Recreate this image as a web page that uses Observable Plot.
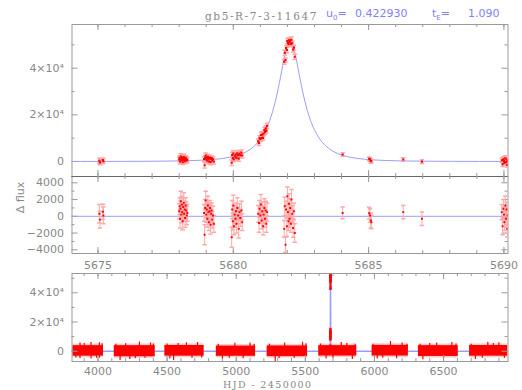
<!DOCTYPE html>
<html><head><meta charset="utf-8">
<script src="https://cdn.jsdelivr.net/npm/d3@7"></script>
<script src="https://cdn.jsdelivr.net/npm/@observablehq/plot@0.6"></script>
<style>
body{margin:0;background:#fff;}
#wrap{position:relative;width:522px;height:390px;overflow:hidden;background:#fff;}
#wrap svg{position:absolute;left:0;overflow:visible;}
.lbl{position:absolute;white-space:pre;line-height:1;}
</style></head><body>
<div id="wrap">
<div class="lbl" style="left:205px;top:11.1px;font-family:'DejaVu Serif';font-size:10.5px;letter-spacing:1.6px;color:#888">gb5-R-7-3-11647</div>
<div class="lbl" style="left:326px;top:8.2px;font-family:'DejaVu Sans';font-size:11px;color:#8080ff">u<span style="font-size:7px;position:relative;top:3px">0</span>=</div>
<div class="lbl" style="left:355px;top:8.2px;font-family:'DejaVu Sans';font-size:11px;color:#8080ff">0.422930</div>
<div class="lbl" style="left:432px;top:8.2px;font-family:'DejaVu Sans';font-size:11px;color:#8080ff">t<span style="font-size:7px;position:relative;top:3px">E</span>=</div>
<div class="lbl" style="left:468px;top:8.2px;font-family:'DejaVu Sans';font-size:11px;color:#8080ff">1.090</div>
<div class="lbl" style="left:-10px;top:192px;width:60px;text-align:center;font-family:'DejaVu Sans';font-size:11px;color:#888;transform:rotate(-90deg)">Δ flux</div>
<div class="lbl" style="left:223px;top:380px;font-family:'DejaVu Serif';font-size:9.5px;letter-spacing:1.4px;color:#888">HJD - 2450000</div>
</div>
<script>
// ---------- data (HJD - 2450000) ----------
const obsT = [
  5675.05, 5675.07, 5675.18, 5675.20,
  5678.00, 5678.02, 5678.03, 5678.05, 5678.06, 5678.08, 5678.10, 5678.11, 5678.13, 5678.15, 5678.17, 5678.18, 5678.20, 5678.22, 5678.24, 5678.26, 5678.28, 5678.30,
  5678.92, 5678.94, 5678.96, 5678.98, 5679.00, 5679.02, 5679.04, 5679.06, 5679.08, 5679.10, 5679.12, 5679.14, 5679.16, 5679.18, 5679.20, 5679.22, 5679.25, 5679.28,
  5679.94, 5679.96, 5679.98, 5680.00, 5680.02, 5680.05, 5680.08, 5680.10, 5680.12, 5680.15, 5680.18, 5680.20, 5680.23, 5680.26, 5680.30, 5680.33,
  5680.92, 5680.95, 5680.97, 5681.00, 5681.02, 5681.05, 5681.07, 5681.10, 5681.12, 5681.15, 5681.17, 5681.20, 5681.22, 5681.25,
  5681.88, 5681.90, 5681.93, 5681.95, 5681.98, 5682.00, 5682.02, 5682.04, 5682.06, 5682.08, 5682.10, 5682.13, 5682.15, 5682.18, 5682.21, 5682.24, 5682.27,
  5684.04, 5685.02, 5685.05, 5685.08, 5685.10, 5686.28, 5686.97,
  5689.92, 5689.95, 5689.98, 5690.00, 5690.02, 5690.05, 5690.08, 5690.10, 5690.12, 5690.14
];
const obsFlux = [
  320, -380, 570, 120,
  880, 1480, -20, 1180, 2090, 490, 1690, 790, -310, 1400, 1900, 600, 1100, 100, 1600, 1000, 410, 710,
  1000, -1590, 1620, 2540, 850, 1460, 370, 1990, 1200, 20, 1330, 1740, -240, 1080, 1490, 410, 940, -20,
  -520, 2820, 1470, 3420, 970, 2450, 2030, 2990, 1550, 3550, 2750, 1220, 3330, 2750, 3810, 2550,
  8650, 8000, 10000, 9700, 11350, 10000, 11500, 10130, 12000, 13500, 12700, 14210, 13150, 15270,
  42740, 46540, 43500, 48640, 47800, 51600, 50900, 50300, 51900, 51150, 51800, 50450, 52200, 50700, 48000, 48800, 44900,
  3000, 1170, 900, 300, 100, 860, -50,
  560, -1140, 960, 260, -640, 1360, -240, 860, -1440, 160
];
const obsResid = [
  300, -400, 550, 100,
  600, 1200, -300, 900, 1800, 200, 1400, 500, -600, 1100, 1600, 300, 800, -200, 1300, 700, 100, 400,
  400, -2200, 1000, 1900, 200, 800, -300, 1300, 500, -700, 600, 1000, -1000, 300, 700, -400, 100, -900,
  -2500, 800, -600, 1300, -1200, 200, -300, 600, -900, 1000, 100, -1500, 500, -200, 700, -700,
  300, -800, 900, 100, 1400, -500, 600, -1200, 200, 1000, -300, 700, -900, 500,
  -1500, 1200, -3400, 800, -1200, 2400, 500, -600, 1500, -300, 1000, -900, 2000, 300, -1400, 600, -2000,
  400, 370, 100, -500, -700, 500, -300,
  500, -1200, 900, 200, -700, 1300, -300, 800, -1500, 100
];
const obsErr = [
  1100, 1000, 900, 1000,
  900, 1000, 1100, 900, 1200, 1000, 1000, 900, 1000, 1100, 1200, 900, 1000, 1100, 900, 1000, 1100, 1000,
  1000, 1200, 1000, 1100, 900, 1000, 1000, 1100, 900, 1000, 1000, 900, 1100, 1000, 900, 1000, 1100, 1000,
  1200, 1100, 1000, 1200, 1000, 1100, 1000, 1000, 1100, 1200, 1000, 1100, 1000, 1000, 1100, 1000,
  1000, 1100, 1000, 1000, 1200, 1000, 1100, 1000, 1000, 1100, 1000, 1100, 1000, 1100,
  1000, 1100, 900, 1000, 1200, 1100, 1000, 1100, 1200, 1000, 1100, 1000, 1200, 1000, 1100, 1000, 1100,
  700, 700, 800, 900, 800, 800, 800,
  900, 1000, 1100, 900, 1000, 1100, 1000, 900, 1000, 1100
];
// model light curve
const modelT = [5673.6, 5675.1, 5676.1, 5677.1, 5678.1, 5678.6, 5679.1, 5679.6, 5679.85, 5680.1, 5680.35, 5680.6, 5680.75, 5680.9, 5681.0, 5681.1, 5681.2, 5681.3, 5681.4, 5681.5, 5681.6, 5681.7, 5681.8, 5681.9, 5682.0, 5682.1,
  5682.2, 5682.3, 5682.4, 5682.5, 5682.6, 5682.7, 5682.8, 5682.9, 5683.0, 5683.1, 5683.2, 5683.3, 5683.45, 5683.6, 5683.85, 5684.1, 5684.35, 5684.6, 5685.1, 5685.6, 5686.1, 5687.1, 5688.1, 5689.1, 5690.6];
const modelFlux = [17, 36, 63, 126, 280, 442, 735, 1294, 1762, 2445, 3460, 5014, 6333, 8074, 9544, 11330, 13510, 16164, 19403, 23337, 28049, 33521, 39511, 45345, 49800, 51504,
  49800, 45345, 39511, 33521, 28049, 23337, 19403, 16164, 13510, 11330, 9544, 8074, 6333, 5014, 3460, 2445, 1762, 1294, 735, 442, 280, 126, 63, 36, 17];
const baselineT = [3800, 6980];
// observing seasons in the full light curve
const seasonStart = [3818, 4118, 4484, 4856, 5224, 5597, 5983, 6318, 6688];
const seasonEnd   = [4040, 4414, 4768, 5140, 5516, 5872, 6245, 6606, 6966];
const bandLo = [-3400, -3800, -3400, -3500, -3700, -3300, -3300, -3600, -3400];
const bandHi = [3800, 3800, 3900, 3500, 3600, 3800, 4000, 3800, 3900];
const haloLo = [-4500, -4900, -4500, -4600, -4800, -4400, -4400, -4700, -4500];
const haloHi = [4900, 4900, 5000, 4600, 4700, 4900, 5100, 4900, 5000];
const spikeT  = [3840, 3870, 3900, 3950, 3990, 4010, 4030,
  4130, 4160, 4200, 4230, 4270, 4300, 4340, 4380, 4400,
  4500, 4520, 4547, 4580, 4640, 4680, 4720, 4750,
  4870, 4900, 4950, 4990, 5050, 5100, 5130,
  5240, 5282, 5310, 5350, 5420, 5480, 5505,
  5610, 5650, 5700, 5760, 5800, 5840, 5860,
  5990, 6020, 6060, 6116, 6160, 6200, 6235,
  6330, 6350, 6400, 6450, 6500, 6560, 6590,
  6700, 6730, 6780, 6820, 6860, 6900, 6940];
const spikeLo = [-4600, -5000, 0, -5300, -4800, -4900, 0,
  0, -6400, 0, -5600, -5100, 0, -4900, 0, 0,
  0, -5400, -6400, 0, 0, -4900, 0, -4700,
  0, -5600, -4900, 0, -5100, 0, 0,
  0, -7000, -5000, 0, -4800, 0, 0,
  0, -5400, -4900, 0, 0, -5600, 0,
  0, -5400, -4900, 0, -5100, 0, 0,
  0, -5900, 0, 0, -5000, 0, 0,
  0, -5600, -4900, 0, 0, 0, -4800];
const spikeHi = [0, 5700, 5300, 6000, 0, 5800, 5100,
  4800, 0, 5100, 0, 0, 6300, 0, 5700, 4900,
  5000, 0, 0, 5300, 5800, 0, 6000, 0,
  4700, 0, 0, 5400, 0, 5600, 4800,
  4700, 0, 0, 5600, 0, 6200, 5100,
  4900, 0, 0, 6000, 5200, 0, 4700,
  4800, 0, 0, 6600, 0, 5700, 4700,
  4800, 0, 5200, 5600, 0, 5900, 4900,
  4800, 0, 0, 6100, 5200, 5800, 0];
// ticks
const zoomTicks = [5675, 5680, 5685, 5690];
const fluxTicks = [0, 20000, 40000];
const fluxMinor = [10000, 30000, 50000];
const residTicks = [-4000, -2000, 0, 2000, 4000];
const residMinor = [-3000, -1000, 1000, 3000];
const hjdTicks = [4000, 4500, 5000, 5500, 6000, 6500];

// ---------- tables ----------
const obs = obsT.map((t, i) => ({t, flux: obsFlux[i], resid: obsResid[i], err: obsErr[i]}));
const model = modelT.map((t, i) => ({t, f: modelFlux[i]}));
const modelWide = [{t: baselineT[0], f: 0}, ...model, {t: baselineT[1], f: 0}];
const seasons = seasonStart.map((s, i) => ({s, e: seasonEnd[i], lo: bandLo[i], hi: bandHi[i], hlo: haloLo[i], hhi: haloHi[i]}));
const spikes = spikeT.map((t, i) => ({t, lo: spikeLo[i], hi: spikeHi[i]}));

// ---------- styling ----------
const RED = "#ff0000", ERR = "#ffa8a8", MODEL = "#9c9cff", AXIS = "#9a9a9a", TEXT = "#888";
const W = 522, ML = 71.5, MR = 14.5, FW = W - ML - MR;
const style = {fontFamily: "DejaVu Sans", fontSize: "11px", color: TEXT, background: "none", overflow: "visible"};
const cap = {draw(ctx) { ctx.moveTo(-2.2, 0); ctx.lineTo(2.2, 0); }};
const pow = d => d === 0 ? "0" : `${d / 10000}×10⁴`;
const plain = d => d < 0 ? "\u2212" + (-d) : String(d);

function edgeTicks(xMajor, xMinor, yMajor, yMinor, fh) {
  const o = {stroke: AXIS, strokeWidth: 1};
  return [
    Plot.tickX(xMinor, {...o, x: d => d, insetBottom: fh - 3}),
    Plot.tickX(xMinor, {...o, x: d => d, insetTop: fh - 3}),
    Plot.tickX(xMajor, {...o, x: d => d, insetBottom: fh - 6}),
    Plot.tickX(xMajor, {...o, x: d => d, insetTop: fh - 6}),
    Plot.tickY(yMinor, {...o, y: d => d, insetRight: FW - 3}),
    Plot.tickY(yMinor, {...o, y: d => d, insetLeft: FW - 3}),
    Plot.tickY(yMajor, {...o, y: d => d, insetRight: FW - 6}),
    Plot.tickY(yMajor, {...o, y: d => d, insetLeft: FW - 6})
  ];
}
const wrap = document.getElementById("wrap");
function place(svg, top) { svg.style.top = top + "px"; wrap.appendChild(svg); }

// ---------- top panel: zoomed light curve ----------
const p1 = Plot.plot({
  width: W, height: 176, marginLeft: ML, marginRight: MR, marginTop: 24, marginBottom: 0,
  x: {domain: [5674.04, 5690.15], axis: null},
  y: {domain: [-6430, 58730], axis: null},
  style,
  marks: [
    Plot.frame({stroke: AXIS}),
    ...edgeTicks(zoomTicks, d3.range(5675, 5691), fluxTicks, fluxMinor, 152),
    Plot.axisY({ticks: fluxTicks, tickFormat: pow, tickSize: 0, tickPadding: 8, label: null}),
    Plot.line(model, {x: "t", y: "f", stroke: MODEL, strokeWidth: 1, curve: "monotone-x", clip: true}),
    Plot.ruleX(obs, {x: "t", y1: d => d.flux - d.err, y2: d => d.flux + d.err, stroke: ERR, clip: true}),
    Plot.dot(obs, {x: "t", y: d => d.flux - d.err, symbol: cap, stroke: ERR, clip: true}),
    Plot.dot(obs, {x: "t", y: d => d.flux + d.err, symbol: cap, stroke: ERR, clip: true}),
    Plot.dot(obs, {x: "t", y: "flux", symbol: "square", r: 1.2, fill: RED, clip: true})
  ]
});
place(p1, 0);

// ---------- middle panel: residuals ----------
const p2 = Plot.plot({
  width: W, height: 92, marginLeft: ML, marginRight: MR, marginTop: 0, marginBottom: 15,
  x: {domain: [5674.04, 5690.15], axis: null},
  y: {domain: [-4442, 4752], axis: null},
  style,
  marks: [
    Plot.frame({stroke: AXIS}),
    Plot.ruleY([4752], {stroke: "#666"}),
    ...edgeTicks(zoomTicks, d3.range(5675, 5691), residTicks, residMinor, 77),
    Plot.axisY({ticks: residTicks, tickFormat: plain, tickSize: 0, tickPadding: 8, label: null}),
    Plot.axisX({ticks: zoomTicks, tickFormat: plain, tickSize: 0, tickPadding: 8, label: null}),
    Plot.ruleY([0], {stroke: MODEL}),
    Plot.ruleX(obs, {x: "t", y1: d => d.resid - d.err, y2: d => d.resid + d.err, stroke: ERR, clip: true}),
    Plot.dot(obs, {x: "t", y: d => d.resid - d.err, symbol: cap, stroke: ERR, clip: true}),
    Plot.dot(obs, {x: "t", y: d => d.resid + d.err, symbol: cap, stroke: ERR, clip: true}),
    Plot.dot(obs, {x: "t", y: "resid", symbol: "square", r: 1.1, fill: RED, clip: true})
  ]
});
place(p2, 176);

// ---------- bottom panel: full light curve ----------
const p3 = Plot.plot({
  width: W, height: 122, marginLeft: ML, marginRight: MR, marginTop: 5, marginBottom: 29,
  x: {domain: [3812, 6966], axis: null},
  y: {domain: [-7055, 53220], axis: null},
  style,
  marks: [
    Plot.line(modelWide, {x: "t", y: "f", stroke: MODEL, strokeWidth: 1.6, curve: "monotone-x", clip: true}),
    Plot.rect(seasons, {x1: "s", x2: "e", y1: "hlo", y2: "hhi", fill: "#ff7070", fillOpacity: 0.35, clip: true}),
    Plot.rect(seasons, {x1: "s", x2: "e", y1: "lo", y2: "hi", fill: RED, clip: true}),
    Plot.ruleX(spikes, {x: "t", y1: "lo", y2: "hi", stroke: RED, strokeWidth: 1.2, clip: true}),
    Plot.ruleX(obs, {x: "t", y1: d => d.flux - d.err, y2: d => d.flux + d.err, stroke: ERR, clip: true}),
    Plot.dot(obs, {x: "t", y: "flux", symbol: "square", r: 1.3, fill: RED, clip: true}),
    Plot.frame({stroke: AXIS}),
    ...edgeTicks(hjdTicks, d3.range(3900, 6901, 100), fluxTicks, fluxMinor, 88),
    Plot.axisY({ticks: fluxTicks, tickFormat: pow, tickSize: 0, tickPadding: 8, label: null}),
    Plot.axisX({ticks: hjdTicks, tickFormat: plain, tickSize: 0, tickPadding: 6, label: null})
  ]
});
place(p3, 268);
</script>
</body></html>
